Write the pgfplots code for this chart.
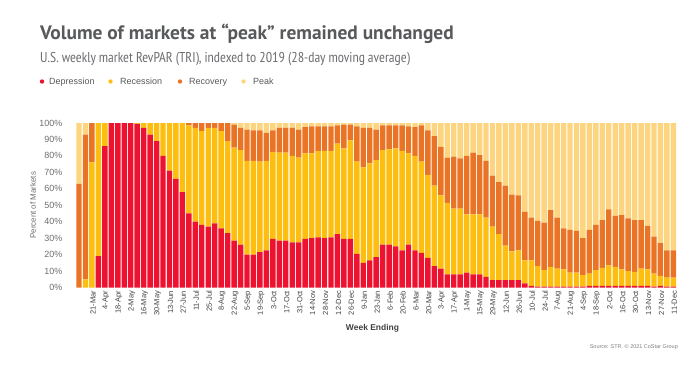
\documentclass[border=0pt]{standalone}
\usepackage{pgfplots}
\pgfplotsset{compat=1.18}
\usepackage{pgfplotstable}
\usepackage{fontspec}
\setmainfont{Liberation Sans}
\newfontfamily\narrow{PT Sans Narrow}
\newfontfamily\ptsans{PT Sans}
\definecolor{dep}{HTML}{EC1230}
\definecolor{rec}{HTML}{FDBE10}
\definecolor{rcv}{HTML}{E97425}
\definecolor{pk}{HTML}{FDD581}
\definecolor{ttl}{HTML}{58595B}
\definecolor{sub}{HTML}{6D6E71}
\definecolor{lab}{HTML}{414042}
\pgfplotstableread{
x D Rec Rcv Pk
1 0 0 63 37
2 0 5 88 7
3 0 76 24 0
4 19 81 0 0
5 86 14 0 0
6 100 0 0 0
7 100 0 0 0
8 100 0 0 0
9 100 0 0 0
10 99.5 0.5 0 0
11 97 3 0 0
12 93 7 0 0
13 89 11 0 0
14 80 20 0 0
15 71 29 0 0
16 66 34 0 0
17 58 42 0 0
18 45 53.5 1.5 0
19 40 57 3 0
20 38 57 5 0
21 37 60 3 0
22 39 58 3 0
23 36 59 5 0
24 33 56 11 0
25 28.5 56.5 14 1
26 26 57.5 13.5 3
27 20 57 19 4
28 20 57 18.5 4.5
29 21.5 55 19 4.5
30 22.5 54.5 17 6
31 29.5 53 13 4.5
32 28.5 53.5 15 3
33 28.5 53.5 15 3
34 27.5 52.5 17 3
35 27.5 51.5 17 4
36 29.5 52 16 2.5
37 30 51.5 16.5 2
38 30.5 52.5 15 2
39 30 53 15 2
40 30.5 52.5 15 2
41 32.5 55 11 1.5
42 29.5 55 14.5 1
43 29.5 60 9.5 1
44 20.5 56 21.5 2
45 15 58 24 3
46 16.5 59 21.5 3
47 18.5 59 18.5 4
48 26 57.5 15 1.5
49 26 58 14.5 1.5
50 25 59.5 14 1.5
51 22.5 60.5 15.5 1.5
52 26 55.5 16.5 2
53 22.5 57.5 17.5 2.5
54 21 55.5 22 1.5
55 18 50.5 27 4.5
56 13 49 30 8
57 11.5 44.5 29.5 14.5
58 8 43.5 27.5 21
59 8 40 31.5 20.5
60 8 40 30.5 21.5
61 9 35.5 35.5 20
62 8 36.5 37.5 18
63 8 36.5 36 19.5
64 6.5 36 34.5 23
65 4.5 32.5 31 32
66 4.5 28 31.5 36
67 4.5 21 36.5 38
68 4.5 17.5 34.5 43.5
69 4.5 18 33.5 44
70 2.5 14 29.5 54
71 1 15.5 26 57.5
72 0.5 12.5 27.5 59.5
73 0.5 10 29 60.5
74 0.5 12 34.5 53
75 0.5 11 31 57.5
76 0.5 10.5 25 64
77 0.5 8.5 26 65
78 0.5 8.5 25.5 65.5
79 0.5 7 22.5 70
80 1 7.5 26.5 65
81 1 9.5 27.5 62
82 1 11 29 59
83 1 12.5 34 52.5
84 1 11.5 31 56.5
85 1 10 33 56
86 1 9 32 58
87 1 8.5 31.5 59
88 1 10.5 29.5 59
89 1 10 26.5 62.5
90 0.5 8 22.5 69
91 1 6 20 73
92 0.5 5.5 16.5 77.5
93 0.5 5.5 16.5 77.5
}\data
\begin{document}
\begin{tikzpicture}[x=1bp,y=1bp]
\path[use as bounding box] (-75.8,-79.5) rectangle (624.2,287.5);
\begin{axis}[
  at={(0,0)}, anchor=south west, scale only axis,
  width=600.8bp, height=164.5bp,
  ybar stacked, bar width=0.84,
  xmin=0.5, xmax=93.5, ymin=0, ymax=100,
  axis line style={draw=none}, tick style={draw=none},
  ytick={0,10,...,100},
  yticklabels={0\%,10\%,20\%,30\%,40\%,50\%,60\%,70\%,80\%,90\%,100\%},
  yticklabel style={font=\fontsize{9}{10}\selectfont, text=sub, xshift=-10bp},
  xtick={3,5,...,93},
  xticklabels={21-Mar,4-Apr,18-Apr,2-May,16-May,30-May,13-Jun,27-Jun,11-Jul,25-Jul,8-Aug,22-Aug,5-Sep,19-Sep,3-Oct,17-Oct,31-Oct,14-Nov,28-Nov,12-Dec,26-Dec,9-Jan,23-Jan,6-Feb,20-Feb,6-Mar,20-Mar,3-Apr,17-Apr,1-May,15-May,29-May,12-Jun,26-Jun,10-Jul,24-Jul,7-Aug,21-Aug,4-Sep,18-Sep,2-Oct,16-Oct,30-Oct,13-Nov,27-Nov,11-Dec},
  xticklabel style={rotate=90, anchor=east, font=\fontsize{7.5}{8}\selectfont, text=lab, yshift=-1bp},
  clip=false,
]
\addplot[fill=dep, draw=none] table[x=x,y=D]{\data};
\addplot[fill=rec, draw=none] table[x=x,y=Rec]{\data};
\addplot[fill=rcv, draw=none] table[x=x,y=Rcv]{\data};
\addplot[fill=pk, draw=none] table[x=x,y=Pk]{\data};
\end{axis}
% titles
\node[anchor=base west, inner sep=0, text=ttl, font=\ptsans\bfseries\fontsize{19.5}{23}\selectfont] at (-35.8,248.2) {Volume of markets at “peak” remained unchanged};
\node[anchor=base west, inner sep=0, text=sub, font=\narrow\fontsize{14.3}{17}\selectfont] at (-35.8,225.2) {U.S. weekly market RevPAR (TRI), indexed to 2019 (28-day moving average)};
% legend
\fill[dep] (-33.8,206) circle (2.2);
\node[anchor=base west, inner sep=0, text=ttl, font=\fontsize{9}{10}\selectfont] at (-26.8,203) {Depression};
\fill[rec] (34.7,206) circle (2.2);
\node[anchor=base west, inner sep=0, text=ttl, font=\fontsize{9}{10}\selectfont] at (44.2,203) {Recession};
\fill[rcv] (104.2,206) circle (2.2);
\node[anchor=base west, inner sep=0, text=ttl, font=\fontsize{9}{10}\selectfont] at (113.2,203) {Recovery};
\fill[pk] (167.7,206) circle (2.2);
\node[anchor=base west, inner sep=0, text=ttl, font=\fontsize{9}{10}\selectfont] at (177.2,203) {Peak};
% axis titles
\node[rotate=90, inner sep=0, text=sub, font=\fontsize{8}{9}\selectfont] at (-42.8,82.25) {Percent of Markets};
\node[anchor=base, inner sep=0, text=lab, font=\bfseries\fontsize{8.5}{10}\selectfont] at (296.7,-42.5) {Week Ending};
\node[anchor=base east, inner sep=0, text=gray, font=\fontsize{5.5}{6}\selectfont] at (602.2,-60.5) {Source: STR. © 2021 CoStar Group};
\end{tikzpicture}
\end{document}
